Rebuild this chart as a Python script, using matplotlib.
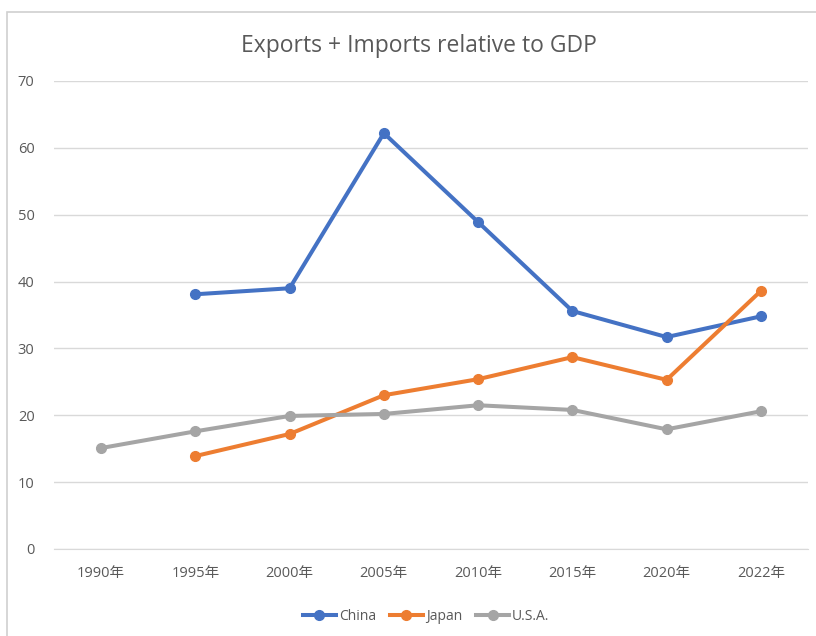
import numpy as np
import matplotlib.pyplot as plt
from matplotlib.patches import Rectangle

plt.rcParams['font.family'] = ['Open Sans', 'Noto Sans CJK JP', 'DejaVu Sans']

years = ['1990年', '1995年', '2000年', '2005年', '2010年', '2015年', '2020年', '2022年']
china = [np.nan, 38.1, 39.0, 62.2, 48.9, 35.6, 31.7, 34.8]
japan = [np.nan, 13.9, 17.2, 23.0, 25.4, 28.7, 25.3, 38.6]
usa = [15.1, 17.6, 19.9, 20.2, 21.5, 20.8, 17.9, 20.6]

text_col = '#595959'

fig = plt.figure(figsize=(8.16, 6.36), dpi=100)
# outer chart frame
fig.patches.append(Rectangle((7 / 816, -0.05), 1.0, 1 - 12 / 636 + 0.05,
                             transform=fig.transFigure, fill=False,
                             edgecolor='#D0D0D0', linewidth=1.2))

ax = fig.add_axes([54 / 816, 1 - 549 / 636, (808 - 54) / 816, (549 - 81) / 636])
x = np.arange(len(years))
ax.plot(x, china, color='#4472C4', lw=2.9, marker='o', ms=7, label='China')
ax.plot(x, japan, color='#ED7D31', lw=2.9, marker='o', ms=7, label='Japan')
ax.plot(x, usa, color='#A5A5A5', lw=2.9, marker='o', ms=7, label='U.S.A.')

ax.set_xlim(-0.5, len(years) - 0.5)
ax.set_ylim(0, 70)
ax.set_yticks(range(0, 71, 10))
ax.set_xticks(x)
ax.set_xticklabels(years)
ax.grid(axis='y', color='#D9D9D9', lw=1)
ax.set_axisbelow(True)
for s in ['top', 'right', 'left']:
    ax.spines[s].set_visible(False)
ax.spines['bottom'].set_color('#D9D9D9')
ax.tick_params(length=0, colors=text_col, labelsize=10.5)
ax.tick_params(axis='y', pad=14)
ax.tick_params(axis='x', pad=12)

fig.text(0.513, 0.927, 'Exports + Imports relative to GDP', ha='center', va='center',
         fontsize=16.5, color=text_col)

leg = fig.legend(loc='center', bbox_to_anchor=(0.522, 0.031), ncol=3, frameon=False,
                 fontsize=10, handlelength=2.4, columnspacing=1.0, handletextpad=0.2,
                 labelcolor=text_col)

fig.savefig('out.png', dpi=100)
